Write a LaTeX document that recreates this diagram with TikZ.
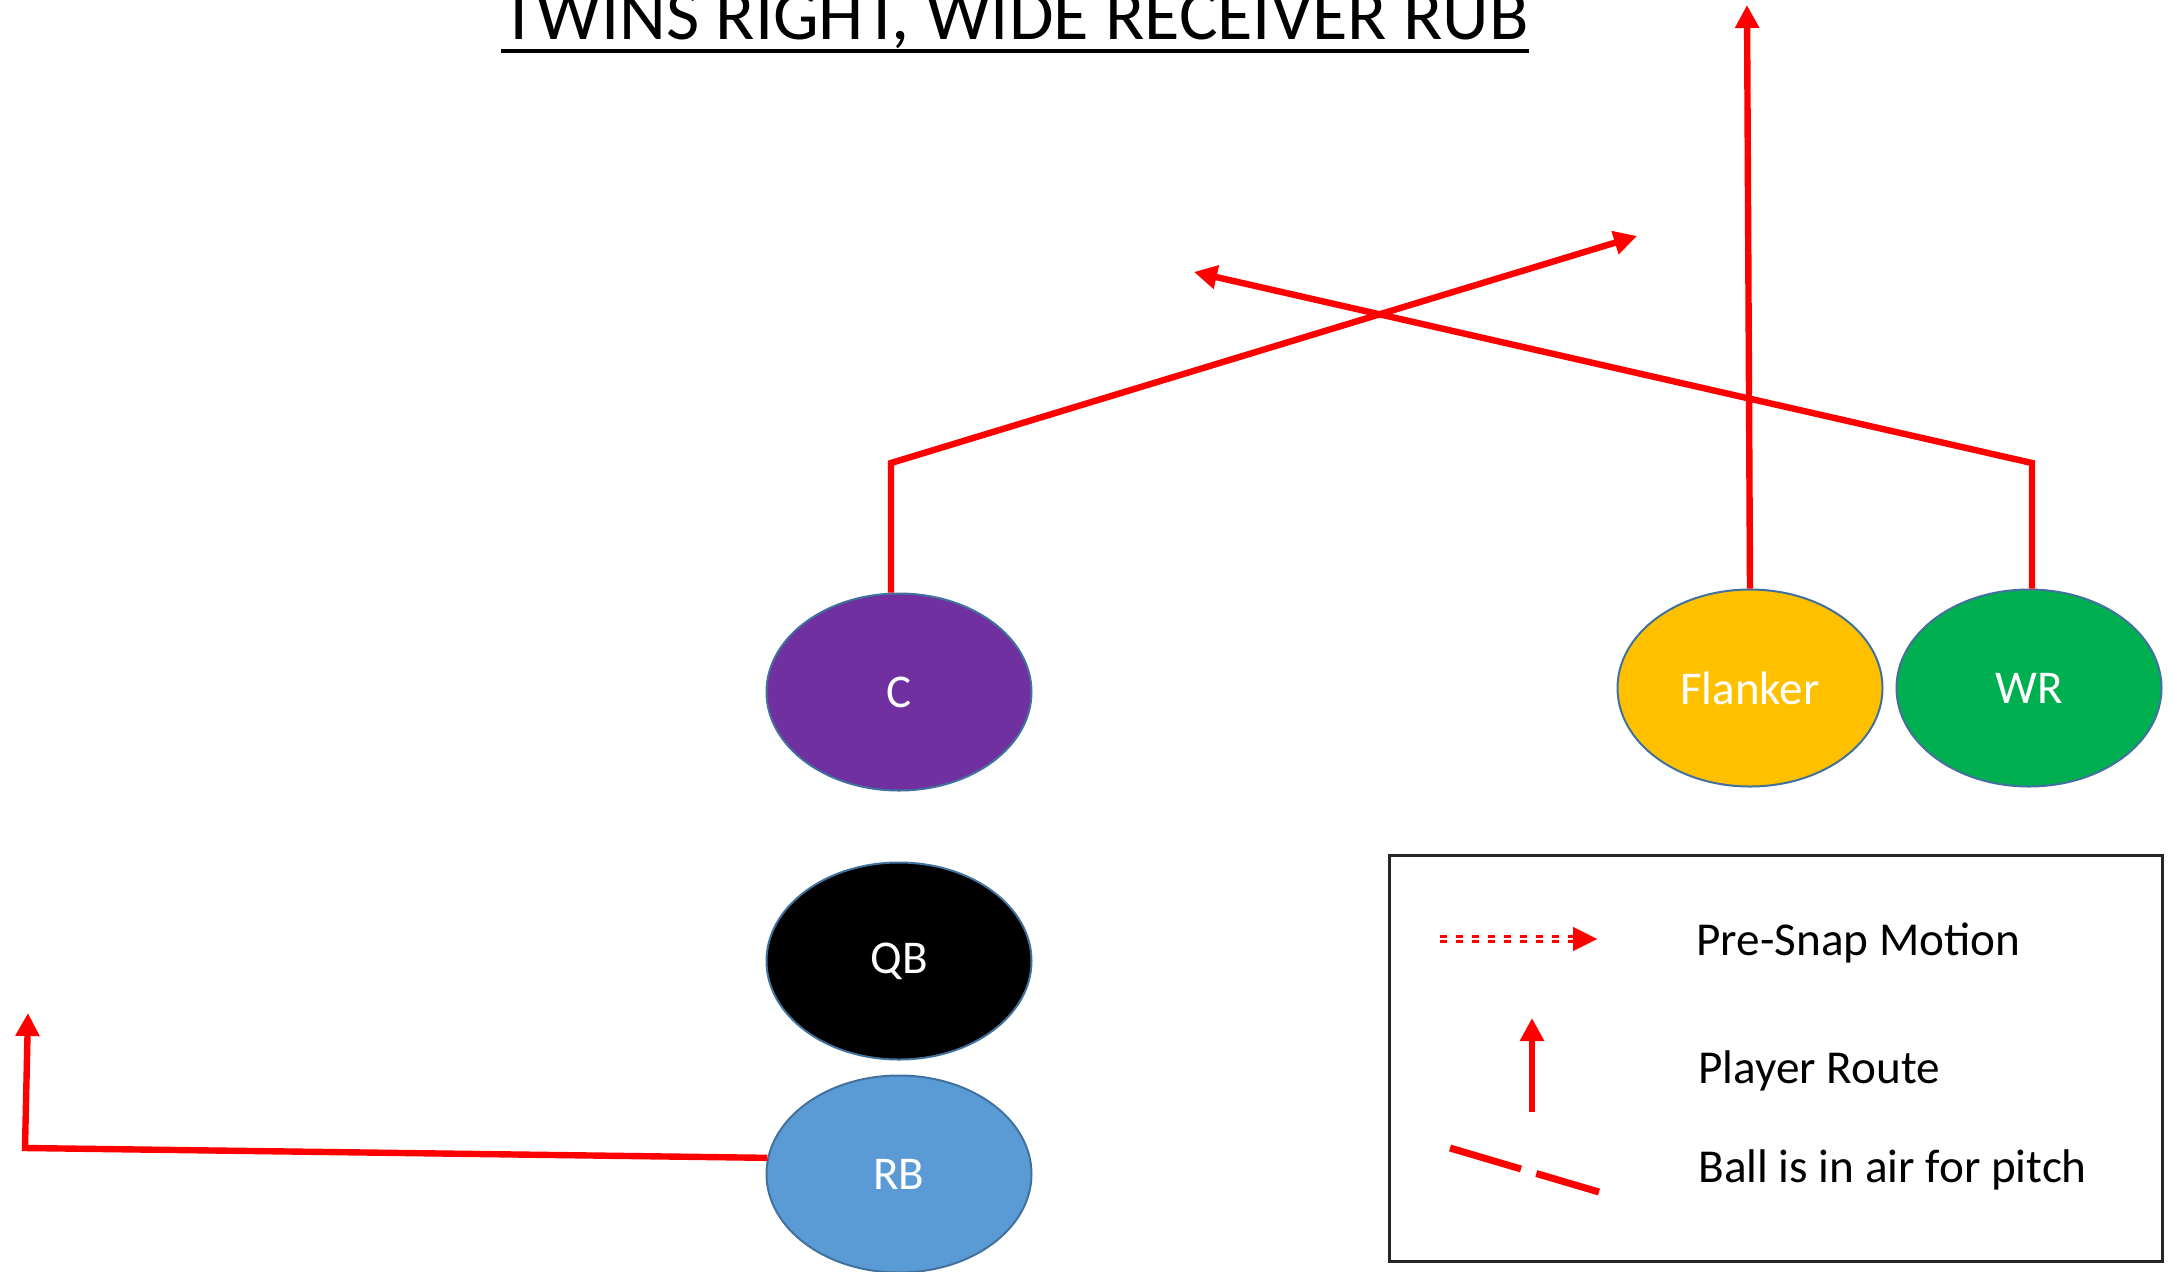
\documentclass[tikz,border=0pt]{standalone}
\usepackage{fontspec}
\setmainfont{Carlito}
\usetikzlibrary{shapes.geometric,arrows.meta,calc}
\definecolor{routered}{HTML}{FF0000}
\definecolor{edgeblue}{HTML}{41719C}
\definecolor{cpurple}{HTML}{7030A0}
\definecolor{rbblue}{HTML}{5B9BD5}
\definecolor{flgold}{HTML}{FFC000}
\definecolor{wrgreen}{HTML}{00B050}
\tikzset{
  player/.style={ellipse, draw=edgeblue, line width=1pt, minimum width=132.5pt, minimum height=98.5pt, inner sep=0pt, text=white, font=\fontsize{23.5}{28}\selectfont},
  route/.style={draw=routered, line width=3.2pt, -{Triangle[width=11.5pt,length=11.5pt]}},
  legendtext/.style={anchor=base west, inner sep=0pt, font=\fontsize{23.6}{28}\selectfont},
  titletext/.style={anchor=base west, inner sep=0pt, font=\fontsize{36.2}{42}\selectfont},
}
\begin{document}
\begin{tikzpicture}[x=0.5pt,y=-0.5pt]
\useasboundingbox (0,0) rectangle (2175,1271);
% title
\node[titletext] (title) at (501,39) {TWINS RIGHT, WIDE RECEIVER RUB};
\draw[line width=2pt] (title.base west |- 0,51) -- (title.base east |- 0,51);
% players
\node[player, fill=cpurple] (C) at (899,692) {C};
\node[player, fill=black] (QB) at (899,961) {QB};
\node[player, fill=rbblue] (RB) at (899,1174) {RB};
\node[player, fill=flgold] (FL) at (1750,688) {Flanker};
\node[player, fill=wrgreen] (WR) at (2029,688) {WR};
% route end points
\coordinate (Ccorner) at (891,463);
\coordinate (Ctip) at (1637,236);
\coordinate (WRcorner) at (2032,463);
\coordinate (WRtip) at (1194,272);
\coordinate (FLtip) at (1747,5);
\coordinate (RBcorner) at (25,1148);
\coordinate (RBtip) at (28,1013);
% routes
\draw[route] ([xshift=-4pt]C.north) -- (Ccorner) -- (Ctip);
\draw[route] ([xshift=1.5pt]WR.north) -- (WRcorner) -- (WRtip);
\draw[route] (FL.north) -- (FLtip);
\draw[route] (RB.173) -- (RBcorner) -- (RBtip);
% legend
\node[draw=black!85, line width=1.25pt, minimum width=386.5pt, minimum height=203pt, inner sep=0pt] (legend) at (1776,1058.5) {};
\coordinate (psA) at (1440,939);
\coordinate (psB) at (1597,939);
\draw[routered, line width=1.5pt, dash pattern=on 3.5pt off 4.5pt] ([yshift=1.3pt]psA) -- ([yshift=1.3pt,xshift=-11pt]psB);
\draw[routered, line width=1.5pt, dash pattern=on 3.5pt off 4.5pt] ([yshift=-1.3pt]psA) -- ([yshift=-1.3pt,xshift=-11pt]psB);
\draw[routered, line width=0.1pt, -{Triangle[width=12pt,length=12pt]}] ([xshift=-12pt]psB) -- (psB);
\node[legendtext] (lt1) at (1696,955) {Pre-Snap Motion};
\coordinate (prA) at (1532,1112);
\coordinate (prB) at (1532,1018);
\draw[route] (prA) -- (prB);
\node[legendtext] (lt2) at (1698,1083) {Player Route};
\coordinate (baA) at (1450,1148);
\coordinate (baB) at (1599,1192);
\draw[routered, line width=3.5pt, dash pattern=on 37pt off 8pt] (baA) -- (baB);
\node[legendtext] (lt3) at (1698,1182) {Ball is in air for pitch};
\end{tikzpicture}
\end{document}
